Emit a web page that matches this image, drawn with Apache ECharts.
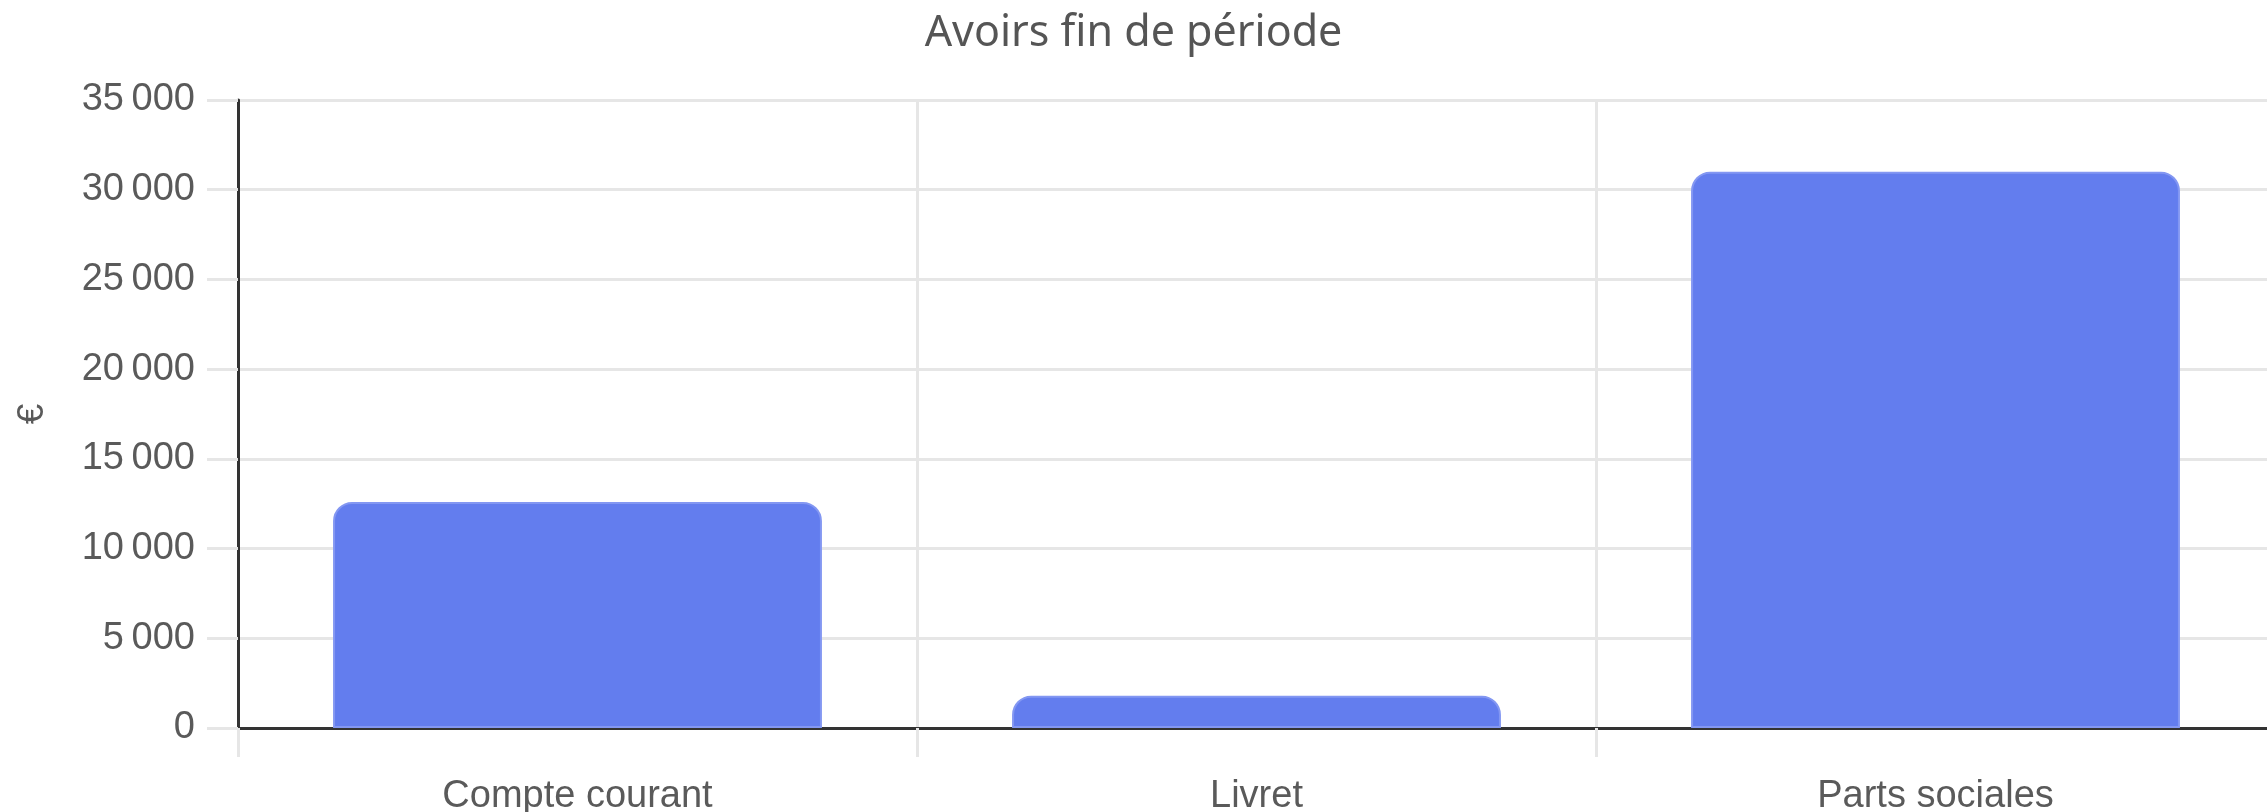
<!DOCTYPE html>
<html>
<head>
<meta charset="utf-8">
<script src="https://cdn.jsdelivr.net/npm/echarts@6/dist/echarts.min.js"></script>
<style>
html,body{margin:0;padding:0;background:#fff;}
#chart{width:2267px;height:812px;}
</style>
</head>
<body>
<div id="chart"></div>
<script>
var chartTitle = 'Avoirs fin de période';
var categories = ['Compte courant', 'Livret', 'Parts sociales'];
var values = [12600, 1800, 31000];
var yAxisName = '€';
var yMin = 0, yMax = 35000, yStep = 5000;

function fmt(v) {
  return String(v).replace(/\B(?=(\d{3})+(?!\d))/g, '\u202F');
}

var chart = echarts.init(document.getElementById('chart'), null, {renderer: 'canvas'});
chart.setOption({
  animation: false,
  backgroundColor: '#ffffff',
  title: {
    text: chartTitle,
    left: 'center',
    top: 7,
    textStyle: {fontFamily: 'Noto Sans', fontSize: 43, fontWeight: 'normal', color: '#555'}
  },
  grid: {left: 238, right: -8, top: 100, bottom: 84, containLabel: false, outerBoundsMode: 'none'},
  xAxis: {
    type: 'category',
    data: categories,
    boundaryGap: true,
    axisLine: {show: true, lineStyle: {color: '#333', width: 3}},
    axisTick: {show: true, length: 29, interval: 0, lineStyle: {color: '#e6e6e6', width: 3}},
    splitLine: {show: true, interval: 0, lineStyle: {color: '#e6e6e6', width: 3}},
    axisLabel: {margin: 50, interval: 0, fontFamily: 'Liberation Sans', fontSize: 38, color: '#5a5a5a'}
  },
  yAxis: {
    type: 'value',
    min: yMin, max: yMax, interval: yStep,
    name: yAxisName,
    nameLocation: 'middle',
    nameGap: 187,
    nameTextStyle: {fontFamily: 'Liberation Sans', fontSize: 37, color: '#5a5a5a'},
    axisLine: {show: true, lineStyle: {color: '#333', width: 3}},
    axisTick: {show: true, length: 31, lineStyle: {color: '#e6e6e6', width: 3}},
    splitLine: {show: true, lineStyle: {color: '#e6e6e6', width: 3}},
    axisLabel: {margin: 43, fontFamily: 'Liberation Sans', fontSize: 38, color: '#5a5a5a', formatter: fmt}
  },
  series: [{
    type: 'bar',
    data: values,
    barWidth: '72%',
    itemStyle: {color: '#637dee', borderColor: '#8397f2', borderWidth: 2, borderRadius: [18, 18, 0, 0]}
  }]
});
</script>
</body>
</html>
